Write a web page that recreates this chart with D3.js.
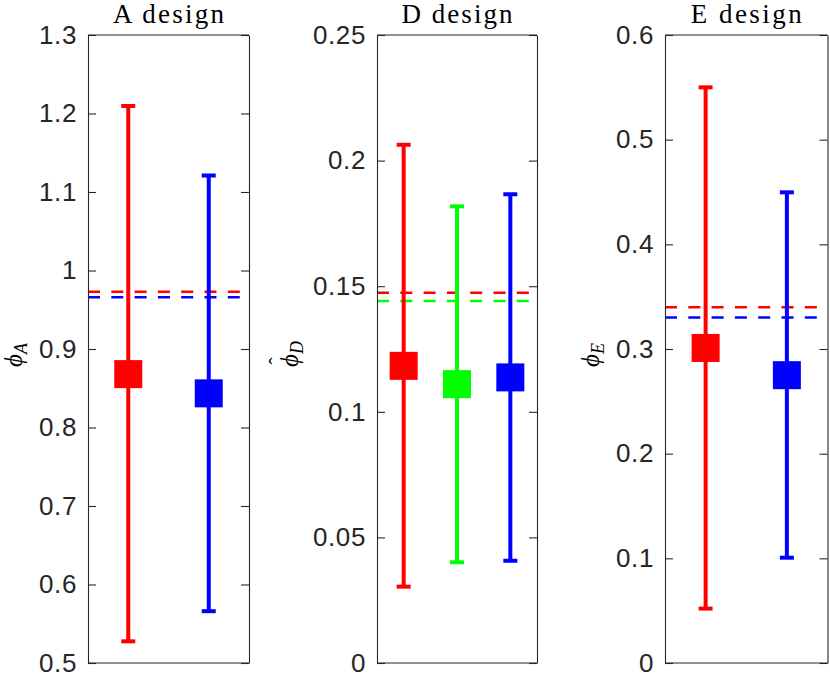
<!DOCTYPE html>
<html>
<head>
<meta charset="utf-8">
<script src="https://cdn.jsdelivr.net/npm/d3@7"></script>
<style>
  html, body { margin: 0; padding: 0; background: #fff; }
  svg { display: block; }
  .ttl { font-family: "Liberation Serif", "DejaVu Serif", serif; }
</style>
</head>
<body>
<svg id="chart" width="830" height="675"></svg>
<script>
// ---------- data ----------
const titles = ["A design", "D design", "E design"];
const labelSubs = ["A", "D", "E"];

const colorsA = ["#ff0000", "#0000ff"];
const centerA = [0.868, 0.8435];
const lowerA  = [0.5276, 0.566];
const upperA  = [1.2096, 1.121];
const dashA   = [0.973, 0.966];
const ticksA  = [0.5, 0.6, 0.7, 0.8, 0.9, 1, 1.1, 1.2, 1.3];
const tickLabelsA = ["0.5", "0.6", "0.7", "0.8", "0.9", "1", "1.1", "1.2", "1.3"];

const colorsD = ["#ff0000", "#00ff00", "#0000ff"];
const centerD = [0.1183, 0.111, 0.1137];
const lowerD  = [0.0304, 0.0401, 0.0407];
const upperD  = [0.2063, 0.1818, 0.1866];
const dashD   = [0.1474, 0.1441];
const dashColorsD = ["#ff0000", "#00ff00"];
const ticksD  = [0, 0.05, 0.1, 0.15, 0.2, 0.25];
const tickLabelsD = ["0", "0.05", "0.1", "0.15", "0.2", "0.25"];

const colorsE = ["#ff0000", "#0000ff"];
const centerE = [0.301, 0.275];
const lowerE  = [0.052, 0.1006];
const upperE  = [0.55, 0.4497];
const dashE   = [0.340, 0.330];
const ticksE  = [0, 0.1, 0.2, 0.3, 0.4, 0.5, 0.6];
const tickLabelsE = ["0", "0.1", "0.2", "0.3", "0.4", "0.5", "0.6"];

// ---------- panel configs (built from arrays) ----------
const panels = [
  { title: titles[0], sub: labelSubs[0], hat: false, colors: colorsA, center: centerA, lower: lowerA, upper: upperA,
    dash: dashA, dashColors: colorsA, ticks: ticksA, tickLabels: tickLabelsA, left: 88, right: 249, labelOff: 66 },
  { title: titles[1], sub: labelSubs[1], hat: true, colors: colorsD, center: centerD, lower: lowerD, upper: upperD,
    dash: dashD, dashColors: dashColorsD, ticks: ticksD, tickLabels: tickLabelsD, left: 377, right: 537, labelOff: 79 },
  { title: titles[2], sub: labelSubs[2], hat: false, colors: colorsE, center: centerE, lower: lowerE, upper: upperE,
    dash: dashE, dashColors: colorsE, ticks: ticksE, tickLabels: tickLabelsE, left: 665, right: 827.5, labelOff: 66 }
];

const plotTop = 35, plotBottom = 663;
const axisColor = "#262626";
const svg = d3.select("#chart");

panels.forEach(p => {
  const n = p.center.length;
  const x = d3.scaleLinear().domain([0.5, n + 0.5]).range([p.left, p.right]);
  const y = d3.scaleLinear().domain([p.ticks[0], p.ticks[p.ticks.length - 1]]).range([plotBottom, plotTop]);
  const g = svg.append("g");

  // dashed reference lines
  g.selectAll("line.dash").data(p.dash).enter().append("line")
    .attr("x1", p.left).attr("x2", p.right)
    .attr("y1", d => y(d)).attr("y2", d => y(d))
    .attr("stroke", (d, i) => p.dashColors[i])
    .attr("stroke-width", 2.5)
    .attr("stroke-dasharray", "12,11.3");

  const idx = d3.range(n);
  // error bars
  g.selectAll("line.eb").data(idx).enter().append("line")
    .attr("x1", i => x(i + 1)).attr("x2", i => x(i + 1))
    .attr("y1", i => y(p.lower[i])).attr("y2", i => y(p.upper[i]))
    .attr("stroke", i => p.colors[i]).attr("stroke-width", 4);
  ["lower", "upper"].forEach(k => {
    g.selectAll("line.cap" + k).data(idx).enter().append("line")
      .attr("x1", i => x(i + 1) - 7).attr("x2", i => x(i + 1) + 7)
      .attr("y1", i => y(p[k][i])).attr("y2", i => y(p[k][i]))
      .attr("stroke", i => p.colors[i]).attr("stroke-width", 4);
  });
  // square markers
  g.selectAll("rect.m").data(idx).enter().append("rect")
    .attr("x", i => x(i + 1) - 14).attr("y", i => y(p.center[i]) - 14)
    .attr("width", 28).attr("height", 28)
    .attr("fill", i => p.colors[i]);

  // axes
  const fmt = v => p.tickLabels[p.ticks.indexOf(v)];
  const axL = g.append("g").attr("transform", `translate(${p.left},0)`)
    .call(d3.axisLeft(y).tickValues(p.ticks).tickFormat(fmt).tickSize(-8).tickSizeOuter(0).tickPadding(11));
  const axR = g.append("g").attr("transform", `translate(${p.right},0)`)
    .call(d3.axisRight(y).tickValues(p.ticks).tickFormat("").tickSize(-8).tickSizeOuter(0));
  [axL, axR].forEach(a => {
    a.select(".domain").attr("stroke", axisColor).attr("stroke-width", 1.1);
    a.selectAll(".tick line").attr("stroke", axisColor).attr("stroke-width", 1.1);
  });
  axL.selectAll(".tick text")
    .attr("fill", axisColor)
    .style("font-family", "'Liberation Sans', Arial, sans-serif")
    .style("font-size", "26px")
    .style("letter-spacing", "0.6px");
  g.append("line").attr("x1", p.left).attr("x2", p.right).attr("y1", plotTop).attr("y2", plotTop)
    .attr("stroke", axisColor).attr("stroke-width", 1.1);
  g.append("line").attr("x1", p.left).attr("x2", p.right).attr("y1", plotBottom).attr("y2", plotBottom)
    .attr("stroke", axisColor).attr("stroke-width", 1.1);

  // title
  g.append("text")
    .attr("class", "ttl")
    .attr("x", (p.left + p.right) / 2).attr("y", 23)
    .attr("text-anchor", "middle")
    .attr("fill", "#000")
    .attr("font-size", 27)
    .attr("textLength", 111).attr("lengthAdjust", "spacing")
    .text(p.title);

  // y label (rotated group)
  const lg = g.append("g")
    .attr("transform", `translate(${p.left - p.labelOff},${(plotTop + plotBottom) / 2}) rotate(-90)`);
  lg.append("text")
    .attr("class", "ttl")
    .attr("x", -5).attr("y", 0)
    .attr("text-anchor", "end")
    .attr("fill", "#000")
    .attr("font-style", "italic")
    .attr("font-size", 25)
    .text("\u03D5");
  lg.append("text")
    .attr("class", "ttl")
    .attr("x", -5).attr("y", 5)
    .attr("text-anchor", "start")
    .attr("fill", "#000")
    .attr("font-style", "italic")
    .attr("font-size", 18)
    .text(p.sub);
  if (p.hat) {
    lg.append("text")
      .attr("class", "ttl")
      .attr("x", -12).attr("y", -14)
      .attr("text-anchor", "middle")
      .attr("fill", "#000")
      .attr("font-size", 22)
      .text("\u02C6");
  }
});
</script>
</body>
</html>
